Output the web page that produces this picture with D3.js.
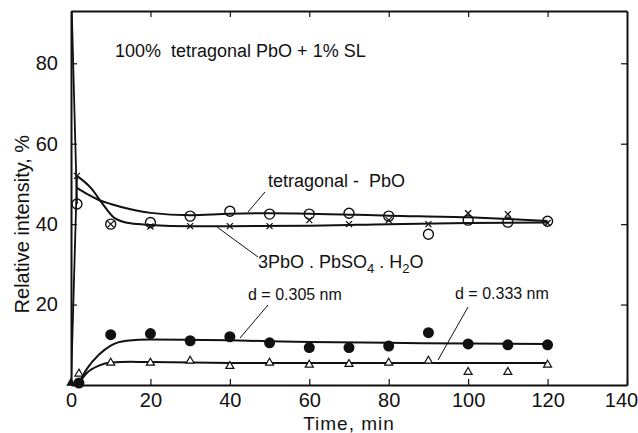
<!DOCTYPE html>
<html>
<head>
<meta charset="utf-8">
<script src="https://cdn.jsdelivr.net/npm/d3@7"></script>
<style>
  body { margin: 0; background: #fff; }
  text { font-family: "Liberation Sans", Arial, sans-serif; fill: #111; }
</style>
</head>
<body>
<svg id="chart" width="638" height="433"></svg>
<script>
// measured points (time in min, relative intensity in %)
let tetraT = [1.5, 10, 20, 30, 40, 50, 60, 70, 80, 90, 100, 110, 120];
let tetraY = [45, 40, 40.4, 42, 43.2, 42.5, 42.5, 42.7, 42, 37.5, 41, 40.5, 40.7];
let basicT = [1.5, 10, 20, 30, 40, 50, 60, 70, 80, 90, 100, 110, 120];
let basicY = [52, 40, 39.4, 39.5, 39.5, 39.5, 41, 40, 41, 40, 42.7, 42.5, 40.3];
let d305T = [2, 10, 20, 30, 40, 50, 60, 70, 80, 90, 100, 110, 120];
let d305Y = [0.5, 12.5, 12.8, 11, 12, 10.5, 9.3, 9.3, 9.7, 13, 10.2, 10, 10];
let d333T = [2, 10, 20, 30, 40, 50, 60, 70, 80, 90, 100, 110, 120];
let d333Y = [2.8, 5.5, 5.5, 6, 4.7, 5.5, 5, 5.2, 5.5, 6, 3.2, 3.2, 5];
let startTriT = [0];
let startTriY = [0];

// first steep segments from t = 0
let tetraStartT = [0, 1.5];
let tetraStartY = [100, 45];
let basicStartT = [0, 1.5];
let basicStartY = [0, 52];

// hand drawn trend curves
let tetraFitT = [1.5, 4, 7, 10, 15, 20, 30, 40, 50, 60, 80, 100, 110, 120];
let tetraFitY = [49, 47.5, 46, 45, 43.7, 42.8, 42.2, 42.6, 42.7, 42.6, 42.1, 41.7, 41.3, 40.8];
let basicFitT = [1.5, 5, 8, 11, 15, 20, 30, 40, 60, 80, 100, 120];
let basicFitY = [52, 49, 45, 41.5, 40.2, 39.8, 39.5, 39.5, 39.6, 40, 40.3, 40.4];
let d305FitT = [2, 4, 7, 10, 14, 20, 40, 60, 80, 100, 120];
let d305FitY = [0.5, 4, 7.5, 9.8, 11, 11.3, 11.1, 10.7, 10.5, 10.3, 10.2];
let d333FitT = [2, 4, 7, 10, 15, 20, 40, 60, 80, 100, 120];
let d333FitY = [0.5, 3, 4.8, 5.6, 5.8, 5.7, 5.5, 5.5, 5.5, 5.5, 5.5];

let xTicks = [0, 20, 40, 60, 80, 100, 120, 140];
let yTicks = [20, 40, 60, 80];

let svg = d3.select('#chart');
let pad = {l: 71, r: 11, t: 11, b: 48};
let W = 638 - pad.l - pad.r;
let H = 433 - pad.t - pad.b;

let x = d3.scaleLinear().domain([0, 140]).range([0, W]);
let y = d3.scaleLinear().domain([0, 93]).range([H, 0]);

let g = svg.append('g').attr('transform', `translate(${pad.l},${pad.t})`);

g.append('clipPath').attr('id', 'clip')
  .append('rect').attr('width', W).attr('height', H);

// axes, ticks point inward
let axisB = g.append('g').attr('transform', `translate(0,${H})`)
  .call(d3.axisBottom(x).tickValues(xTicks).tickSizeInner(-6).tickSizeOuter(0).tickPadding(8));
let axisT = g.append('g')
  .call(d3.axisTop(x).tickValues(xTicks.slice(1, -1)).tickSizeInner(-6).tickSizeOuter(0).tickFormat(''));
let axisL = g.append('g')
  .call(d3.axisLeft(y).tickValues(yTicks).tickSizeInner(-6).tickSizeOuter(0).tickPadding(13));
let axisR = g.append('g').attr('transform', `translate(${W},0)`)
  .call(d3.axisRight(y).tickValues(yTicks).tickSizeInner(-6).tickSizeOuter(0).tickFormat(''));

[axisB, axisT, axisL, axisR].forEach(a => {
  a.select('.domain').attr('stroke', '#111').attr('stroke-width', 2);
  a.selectAll('.tick line').attr('stroke', '#111').attr('stroke-width', 1.2);
  a.selectAll('.tick text').style('font-size', '20px').attr('fill', '#111');
});
// last x label sits at the right edge
axisB.selectAll('.tick text').filter(d => d === 140).attr('dx', -6);

// axis titles
svg.append('text')
  .attr('x', pad.l + x(70)).attr('y', 430)
  .attr('text-anchor', 'middle').style('font-size', '19px').style('letter-spacing', '1px')
  .text('Time, min');
svg.append('text')
  .attr('transform', `translate(29,${pad.t + y(40)}) rotate(-90)`)
  .attr('text-anchor', 'middle').style('font-size', '20px')
  .text('Relative intensity, %');

// lines
let plot = g.append('g').attr('clip-path', 'url(#clip)');
function pts(ts, ys) { return ts.map((t, i) => [t, ys[i]]); }
let curve = d3.line().x(d => x(d[0])).y(d => y(d[1])).curve(d3.curveMonotoneX);
let straight = d3.line().x(d => x(d[0])).y(d => y(d[1]));

[[tetraFitT, tetraFitY], [basicFitT, basicFitY], [d305FitT, d305FitY], [d333FitT, d333FitY]]
  .forEach(s => {
    plot.append('path').datum(pts(s[0], s[1]))
      .attr('d', curve).attr('fill', 'none').attr('stroke', '#111').attr('stroke-width', 2);
  });
[[tetraStartT, tetraStartY], [basicStartT, basicStartY]].forEach(s => {
  plot.append('path').datum(pts(s[0], s[1]))
    .attr('d', straight).attr('fill', 'none').attr('stroke', '#111').attr('stroke-width', 1.8);
});

// markers
let marks = g.append('g');
marks.selectAll('.cross').data(pts(basicT, basicY)).join('path')
  .attr('class', 'cross')
  .attr('transform', d => `translate(${x(d[0])},${y(d[1])})`)
  .attr('d', 'M-3,-3L3,3M-3,3L3,-3')
  .attr('stroke', '#111').attr('stroke-width', 1.3);
marks.selectAll('.ocirc').data(pts(tetraT, tetraY)).join('circle')
  .attr('class', 'ocirc')
  .attr('cx', d => x(d[0])).attr('cy', d => y(d[1])).attr('r', 5)
  .attr('fill', 'none').attr('stroke', '#111').attr('stroke-width', 1.4);
marks.selectAll('.fcirc').data(pts(d305T, d305Y)).join('circle')
  .attr('class', 'fcirc')
  .attr('cx', d => x(d[0])).attr('cy', d => y(d[1])).attr('r', 5.5)
  .attr('fill', '#111');
let tri = d3.symbol().type(d3.symbolTriangle).size(28);
marks.selectAll('.otri').data(pts(d333T, d333Y)).join('path')
  .attr('class', 'otri')
  .attr('transform', d => `translate(${x(d[0])},${y(d[1])})`)
  .attr('d', tri).attr('fill', '#fff').attr('stroke', '#111').attr('stroke-width', 1.2);
marks.selectAll('.ftri').data(pts(startTriT, startTriY)).join('path')
  .attr('class', 'ftri')
  .attr('transform', d => `translate(${x(d[0])},${y(d[1]) - 2})`)
  .attr('d', d3.symbol().type(d3.symbolTriangle).size(40)).attr('fill', '#111');

// labels and leader lines
function note(txt, tx, ty, size) {
  return svg.append('text').attr('x', tx).attr('y', ty)
    .style('font-size', size + 'px').style('white-space', 'pre').text(txt);
}
function leader(x1, y1, x2, y2) {
  svg.append('line').attr('x1', x1).attr('y1', y1).attr('x2', x2).attr('y2', y2)
    .attr('stroke', '#111').attr('stroke-width', 1);
}

note('100%  tetragonal PbO + 1% SL', 115, 57, 18);
note('tetragonal -  PbO', 268, 187, 18);
leader(265, 192, 248, 212);

let salt = svg.append('text').attr('x', 258).attr('y', 268).style('font-size', '18px');
salt.append('tspan').text('3PbO . PbSO');
salt.append('tspan').attr('dy', 5).style('font-size', '13px').text('4');
salt.append('tspan').attr('dy', -5).text(' . H');
salt.append('tspan').attr('dy', 5).style('font-size', '13px').text('2');
salt.append('tspan').attr('dy', -5).text('O');
leader(217, 227, 258, 257);

note('d = 0.305 nm', 248, 300, 16);
leader(268, 305, 240, 338);
note('d = 0.333 nm', 455, 299, 16);
leader(468, 307, 438, 360);
</script>
</body>
</html>
